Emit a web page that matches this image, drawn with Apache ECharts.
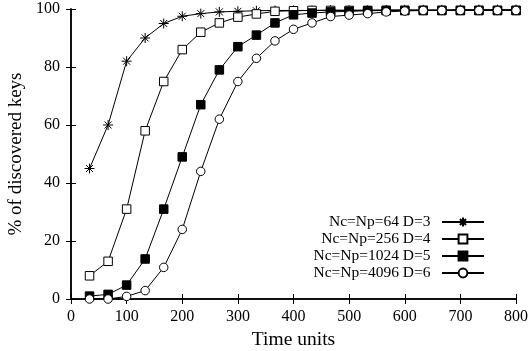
<!DOCTYPE html>
<html><head><meta charset="utf-8">
<script src="https://cdn.jsdelivr.net/npm/echarts@6/dist/echarts.min.js"></script>
<style>html,body{margin:0;padding:0;background:#fff}#c{width:528px;height:351px}</style>
</head><body><div id="c"></div>
<script>
var timeUnits = [33.3, 66.7, 100, 133.3, 166.7, 200, 233.3, 266.7, 300, 333.3, 366.7, 400, 433.3, 466.7, 500, 533.3, 566.7, 600, 633.3, 666.7, 700, 733.3, 766.7, 800];
var seriesNames = ['Nc=Np=64 D=3', 'Nc=Np=256 D=4', 'Nc=Np=1024 D=5', 'Nc=Np=4096 D=6'];
var d3 = [45, 60, 82, 90, 95, 97.5, 98.4, 99, 99.2, 99.4, 99.5, 99.5, 99.5, 99.6, 99.6, 99.6, 99.7, 99.7, 99.7, 99.7, 99.8, 99.8, 99.8, 99.8];
var d4 = [8, 13, 31, 58, 75, 86, 92, 95.2, 97.2, 98.3, 99.2, 99.4, 99.5, 99.5, 99.5, 99.5, 99.5, 99.5, 99.5, 99.5, 99.5, 99.5, 99.5, 99.5];
var d5 = [1, 1.6, 4.8, 13.8, 31, 49, 67, 79, 87, 91, 95.2, 98, 98.6, 99, 99.2, 99.4, 99.5, 99.5, 99.5, 99.5, 99.5, 99.5, 99.5, 99.5];
var d6 = [0, 0, 0.9, 2.9, 10.9, 24, 44, 62, 75, 83, 89, 93, 95.2, 97.4, 97.9, 98.4, 99, 99.3, 99.5, 99.5, 99.5, 99.5, 99.5, 99.5];
var xTicks = [0, 100, 200, 300, 400, 500, 600, 700, 800];
var yTicks = [0, 20, 40, 60, 80, 100];

var FONT = '"Liberation Serif", "DejaVu Serif", serif';
function pairs(arr) { return arr.map(function (v, i) { return [timeUnits[i], v]; }); }
var starPath = 'path://M0 5 L10 5 M5 0 L5 10 M1.5 1.5 L8.5 8.5 M8.5 1.5 L1.5 8.5';
var symbols = [
  { symbol: starPath, size: 10, item: { color: 'rgba(0,0,0,0)', borderColor: '#000', borderWidth: 1 } },
  { symbol: 'rect', size: 8.5, item: { color: '#fff', borderColor: '#000', borderWidth: 1 } },
  { symbol: 'rect', size: 8.5, item: { color: '#000', borderColor: '#000', borderWidth: 1 } },
  { symbol: 'circle', size: 8.5, item: { color: '#fff', borderColor: '#000', borderWidth: 1 } }
];
var dataSets = [d3, d4, d5, d6];
var series = dataSets.map(function (d, i) {
  return {
    name: seriesNames[i], type: 'line', data: pairs(d),
    symbol: symbols[i].symbol, symbolSize: symbols[i].size,
    showAllSymbol: true, animation: false,
    lineStyle: { color: '#000', width: 1 },
    itemStyle: symbols[i].item,
    z: 2 + i
  };
});
var axisCommonX = {
  type: 'value', min: 0, max: 800, interval: 100,
  axisLine: { show: true, lineStyle: { color: '#000', width: 1.5 } },
  axisTick: { show: true, inside: true, length: 5, lineStyle: { color: '#000', width: 1 } },
  splitLine: { show: false }
};
var axisCommonY = {
  type: 'value', min: 0, max: 100, interval: 20,
  axisLine: { show: true, lineStyle: { color: '#000', width: 1.5 } },
  axisTick: { show: true, inside: true, length: 5, lineStyle: { color: '#000', width: 1 } },
  splitLine: { show: false }
};
var chart = echarts.init(document.getElementById('c'), null, { renderer: 'canvas' });
chart.setOption({
  backgroundColor: '#fff',
  animation: false,
  grid: { left: 71, right: 12, top: 9, bottom: 52, containLabel: false, outerBoundsMode: 'none' },
  xAxis: [
    Object.assign({}, axisCommonX, {
      position: 'bottom',
      name: 'Time units', nameLocation: 'middle', nameGap: 28,
      nameTextStyle: { fontFamily: FONT, fontSize: 19.5, color: '#000' },
      axisLabel: { show: true, margin: 10, fontFamily: FONT, fontSize: 16, color: '#000',
        formatter: function (v) { return xTicks.indexOf(v) >= 0 ? String(v) : ''; } }
    }),
    Object.assign({}, axisCommonX, { position: 'top', axisLabel: { show: false } })
  ],
  yAxis: [
    Object.assign({}, axisCommonY, {
      position: 'left',
      name: '% of discovered keys', nameLocation: 'middle', nameGap: 40,
      nameTextStyle: { fontFamily: FONT, fontSize: 19, color: '#000' },
      axisLabel: { show: true, margin: 11, fontFamily: FONT, fontSize: 16, color: '#000',
        formatter: function (v) { return yTicks.indexOf(v) >= 0 ? String(v) : ''; } }
    }),
    Object.assign({}, axisCommonY, { position: 'right', axisLabel: { show: false } })
  ],
  legend: {
    orient: 'vertical', right: 43, top: 214, align: 'right', padding: 0,
    itemWidth: 42, itemHeight: 11, itemGap: 1,
    textStyle: { fontFamily: FONT, fontSize: 15.5, color: '#000', padding: [0, 6.5, 0, 0] },
    data: seriesNames
  },
  series: series
});
</script></body></html>
